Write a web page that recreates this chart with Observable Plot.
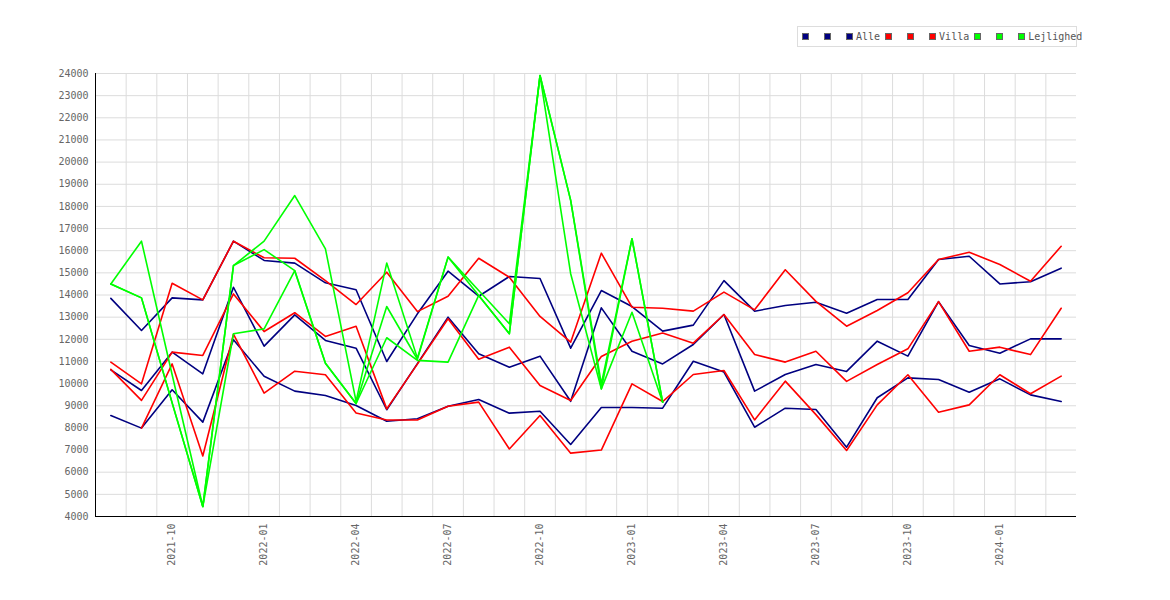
<!DOCTYPE html>
<html><head><meta charset="utf-8">
<script src="https://cdn.jsdelivr.net/npm/d3@7"></script>
<script src="https://cdn.jsdelivr.net/npm/@observablehq/plot@0.6"></script>
<style>
body{margin:0;background:#fff;font-family:"DejaVu Sans Mono",monospace;}
#wrap{position:relative;width:1170px;}
#top{position:relative;height:60px;}
#legend{position:absolute;left:797px;top:26px;width:280px;height:21px;border:1px solid #ddd;box-sizing:border-box;display:flex;align-items:center;padding-left:4px;font-size:10px;color:#555;white-space:nowrap;overflow:visible;}
.sq{display:inline-block;flex:0 0 auto;width:5px;height:5px;border:1px solid #666;margin-right:15px;}
.sq.last{margin-right:3px;}
.lab{flex:0 0 auto;margin-right:5px;}
</style></head>
<body>
<div id="wrap"><div id="top"><div id="legend"></div></div><div id="chart"></div></div>
<script>
const months = ["2021-08","2021-09","2021-10","2021-11","2021-12","2022-01","2022-02","2022-03","2022-04","2022-05","2022-06","2022-07","2022-08","2022-09","2022-10","2022-11","2022-12","2023-01","2023-02","2023-03","2023-04","2023-05","2023-06","2023-07","2023-08","2023-09","2023-10","2023-11","2023-12","2024-01","2024-02","2024-03"];
const xTickLabels = ["2021-10","2022-01","2022-04","2022-07","2022-10","2023-01","2023-04","2023-07","2023-10","2024-01"];
const yTicks = [4000,5000,6000,7000,8000,9000,10000,11000,12000,13000,14000,15000,16000,17000,18000,19000,20000,21000,22000,23000,24000];

const alleHi  = [13850,12400,13870,13780,16430,15560,15440,14550,14235,11000,13150,15075,13945,14835,14745,11600,14200,13480,12370,12640,14650,13270,13525,13675,13180,13800,13800,15600,15750,14500,14600,15210];
const alleMid = [10620,9690,11420,10440,14350,11690,13100,11950,11600,8820,10900,13000,11350,10740,11240,9200,13420,11460,10890,11765,13120,9660,10410,10860,10550,11915,11240,13700,11720,11370,12020,12020];
const alleLo  = [8560,7990,9720,8260,11980,10330,9660,9460,9010,8300,8410,8980,9280,8665,8755,7250,8920,8920,8890,11010,10520,8030,8890,8830,7130,9360,10260,10185,9610,10215,9490,9190];

const villaHi  = [10970,9990,14530,13780,16430,15680,15660,14650,13570,15030,13250,13945,15660,14800,13030,11870,15890,13450,13400,13270,14130,13330,15140,13710,12590,13300,14100,15600,15930,15380,14620,16200];
const villaMid = [10640,9240,11420,11270,14050,12350,13200,12130,12590,8860,10880,12925,11100,11645,9915,9240,11220,11915,12280,11825,13120,11310,10970,11460,10100,10860,11570,13700,11460,11645,11310,13400];
const villaLo  = [null,7990,10890,6730,12230,9570,10560,10400,8670,8360,8360,8980,9165,7050,8560,6860,7000,9990,9190,10410,10590,8360,10110,8600,6980,9040,10400,8710,9040,10400,9540,10340];

const lejHi  = [14500,16430,10400,4450,15330,16430,18490,16085,9200,15440,11150,15710,14200,12700,23910,18270,9990,16540,9160];
const lejMid = [14500,13870,9130,4450,15330,16050,15100,10920,9100,13480,11100,15710,13980,12250,23910,18270,9760,16540,9160];
const lejLo  = [14500,13870,9130,4450,12250,12470,15100,10920,9100,12070,11050,10970,13980,12250,23910,14960,9760,13220,9160];

const groups = [
  {name:"Alle", color:"#000080", series:[alleHi, alleMid, alleLo]},
  {name:"Villa", color:"#ff0000", series:[villaHi, villaMid, villaLo]},
  {name:"Lejlighed", color:"#00ff00", series:[lejHi, lejMid, lejLo]}
];

// legend
const leg = document.getElementById("legend");
groups.forEach(g => {
  g.series.forEach((s, k) => {
    const sq = document.createElement("span");
    sq.className = "sq" + (k === 2 ? " last" : "");
    sq.style.background = g.color;
    leg.appendChild(sq);
  });
  const t = document.createElement("span");
  t.className = "lab"; t.textContent = g.name;
  leg.appendChild(t);
});

const xDomain = [-0.5, months.length - 0.5];
const gridX = months.slice(1).map((m, i) => i + 0.5);
const tickIdx = xTickLabels.map(l => months.indexOf(l));

const lineMarks = [];
groups.forEach(g => {
  g.series.forEach(s => {
    lineMarks.push(Plot.line(s, {x: (d, i) => i, y: d => d, stroke: g.color, strokeWidth: 1.6}));
  });
});

const chart = Plot.plot({
  width: 1170, height: 540,
  marginLeft: 95, marginRight: 94, marginTop: 13, marginBottom: 84,
  x: {type: "linear", domain: xDomain},
  y: {domain: [yTicks[0], yTicks[yTicks.length - 1]]},
  style: {fontFamily: "DejaVu Sans Mono", fontSize: "10px", color: "#666", background: "white"},
  marks: [
    Plot.ruleY(yTicks, {stroke: "#dcdcdc"}),
    Plot.ruleX(gridX, {stroke: "#dcdcdc"}),
    ...lineMarks,
    Plot.ruleX([xDomain[0]], {stroke: "black"}),
    Plot.ruleY([yTicks[0]], {stroke: "black"}),
    Plot.axisY({ticks: yTicks, tickSize: 0, tickPadding: 7, tickFormat: d3.format("d")}),
    Plot.axisX({ticks: tickIdx, tickSize: 0, tickPadding: 7, tickRotate: -90, tickFormat: i => months[i]})
  ]
});
document.getElementById("chart").appendChild(chart);
</script>
</body></html>
